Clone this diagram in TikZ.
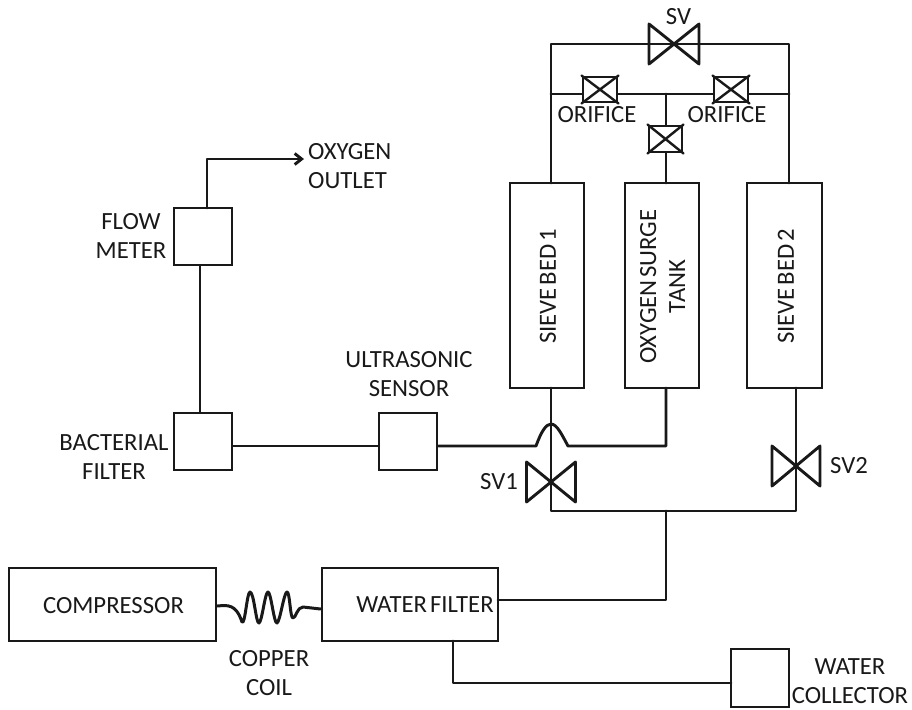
\documentclass[tikz,border=0pt]{standalone}
\usepackage{fontspec}
\setmainfont{Carlito}
\usetikzlibrary{arrows.meta}
\newcommand{\lblfont}{\fontsize{24.7}{29}\selectfont\spaceskip 3pt\relax}
\tikzset{
  x=1pt,y=-1pt,
  pipe/.style={line width=2.9pt,line join=round,line cap=round,draw=black!90},
  unitbox/.style={draw=black!90,line width=2.9pt,rectangle,inner sep=0pt,fill=white},
  lbl/.style={font=\lblfont,align=center,inner sep=0pt,text=black!90},
}
\newcommand{\bowtieH}[4]{% name cx cy: horizontal valve halfwidth
  \draw[pipe] (#1-#3,#2-#4) -- (#1+#3,#2+#4) -- (#1+#3,#2-#4) -- (#1-#3,#2+#4) -- cycle;}
\newcommand{\orificeX}[1]{%
  \draw[pipe,line width=2.4pt] (#1.north west) -- (#1.south east) (#1.north east) -- (#1.south west);}
\begin{document}
\begin{tikzpicture}
\useasboundingbox (0,0) rectangle (912,709);
\path[fill=white] (0,0) rectangle (912,709);
% boxes
\node[unitbox,minimum width=74pt,minimum height=205pt] (sb1) at (547,285.5) {};
\node[unitbox,minimum width=74pt,minimum height=205pt] (tank) at (662,285.5) {};
\node[unitbox,minimum width=75pt,minimum height=205pt] (sb2) at (784.5,285.5) {};
\node[unitbox,minimum width=58pt,minimum height=57pt] (flow) at (203,236.5) {};
\node[unitbox,minimum width=58pt,minimum height=57pt] (bact) at (203,441.5) {};
\node[unitbox,minimum width=58pt,minimum height=57pt] (ultra) at (408,441.5) {};
\node[unitbox,minimum width=207pt,minimum height=73pt] (comp) at (112.5,604.5) {};
\node[unitbox,minimum width=176pt,minimum height=73pt] (wf) at (410,604.5) {};
\node[unitbox,minimum width=58pt,minimum height=58pt] (wc) at (760,678) {};
% orifices
\node[unitbox,minimum width=34pt,minimum height=25pt] (o1) at (600,89.5) {};
\node[unitbox,minimum width=34pt,minimum height=25pt] (o2) at (731,89.5) {};
\node[unitbox,minimum width=33pt,minimum height=26pt] (o3) at (665.5,139) {};
\orificeX{o1}\orificeX{o2}\orificeX{o3}
% junction coordinates
\coordinate (sv) at (674,44);
\coordinate (tl) at (551,44);
\coordinate (tr) at (789,44);
\coordinate (ol) at (551,94);
\coordinate (or) at (789,94);
\coordinate (om) at (666,94);
\coordinate (s1t) at (551,183);
\coordinate (s2t) at (789,183);
\coordinate (tt) at (666,183);
\coordinate (s1b) at (551,388);
\coordinate (s2b) at (796,388);
\coordinate (tb) at (666,388);
\coordinate (bl) at (551,511);
\coordinate (br) at (796,511);
\coordinate (bm) at (666,511);
\coordinate (wfe) at (666,600);
\coordinate (wfr) at (498,600);
\coordinate (wfb) at (453,641);
\coordinate (wcl) at (731,683);
\coordinate (wcc) at (453,683);
\coordinate (hl) at (536,446);
\coordinate (hr) at (568,446);
\coordinate (hp) at (551,424);
\coordinate (ft) at (207,208);
\coordinate (fc) at (207,159);
\coordinate (fo) at (304,159);
% connectors
\draw[pipe] (s1t) -- (tl) -- (sv) -- (tr) -- (s2t);
\draw[pipe] (ol) -- (o1.west |- ol);
\draw[pipe] (o1.east |- ol) -- (o2.west |- ol);
\draw[pipe] (o2.east |- or) -- (or);
\draw[pipe] (om) -- (o3.north -| om);
\draw[pipe] (o3.south -| tt) -- (tt);
\draw[pipe] (s1b) -- (bl) -- (br) -- (s2b);
\draw[pipe] (bm) -- (wfe) -- (wfr);
\draw[pipe] (wfb) -- (wcc) -- (wcl);
\draw[pipe] (flow.south -| 200,0) -- (bact.north -| 200,0);
\draw[pipe] (bact.east |- 0,446) -- (ultra.west |- 0,446);
\draw[pipe] (ultra.east |- 0,446) -- (hl) .. controls (541,432) and (546,424) .. (hp) .. controls (557,424) and (562,435) .. (hr) -- (tb |- hr) -- (tb);
\draw[pipe,-{Straight Barb[length=7pt,width=11pt]}] (ft) -- (fc) -- (fo);
% coil
\draw[pipe,line width=3pt] (comp.east |- 0,606)
  .. controls (228,605) and (236,604) .. (242,622)
  .. controls (245,626) and (247,592) .. (250,592)
  .. controls (254,592) and (256,624) .. (259,623)
  .. controls (262,622) and (265,592) .. (268,592)
  .. controls (271,592) and (274,624) .. (277,623)
  .. controls (280,622) and (284,592) .. (287,592)
  .. controls (290,592) and (290,618) .. (293,618)
  .. controls (296,618) and (297,607) .. (303,607)
  -- (wf.west |- 0,609);
% valves
\bowtieH{674}{44}{25}{20}
\bowtieH{551}{482}{24.5}{20}
\bowtieH{796}{466}{24}{20}
% labels
\node[lbl] (tcomp) at (113.5,606) {COMPRESSOR};
\node[lbl] (twf) at (425,605) {WATER FILTER};
\node[lbl] (tcc) at (269,673) {COPPER\\COIL};
\node[lbl] (twc) at (850,681) {WATER\\COLLECTOR};
\node[lbl] (tfm) at (131,236) {FLOW\\METER};
\node[lbl] (tbf) at (114,456.5) {BACTERIAL\\FILTER};
\node[lbl] (tus) at (409,374.5) {ULTRASONIC\\SENSOR};
\node[lbl,align=left,anchor=west] (tout) at (308,166) {OXYGEN\\OUTLET};
\node[lbl] (tsv) at (678.5,17) {SV};
\node[lbl] (tsv1) at (499,482) {SV1};
\node[lbl] (tsv2) at (849,466) {SV2};
\node[lbl] (to1) at (597,115) {ORIFICE};
\node[lbl] (to2) at (727,115) {ORIFICE};
\node[lbl,rotate=90] (ts1) at (548,286.5) {SIEVE BED 1};
\node[lbl,rotate=90] (ttk) at (662.5,286.5) {OXYGEN SURGE\\TANK};
\node[lbl,rotate=90] (ts2) at (786,286.5) {SIEVE BED 2};
\end{tikzpicture}
\end{document}
